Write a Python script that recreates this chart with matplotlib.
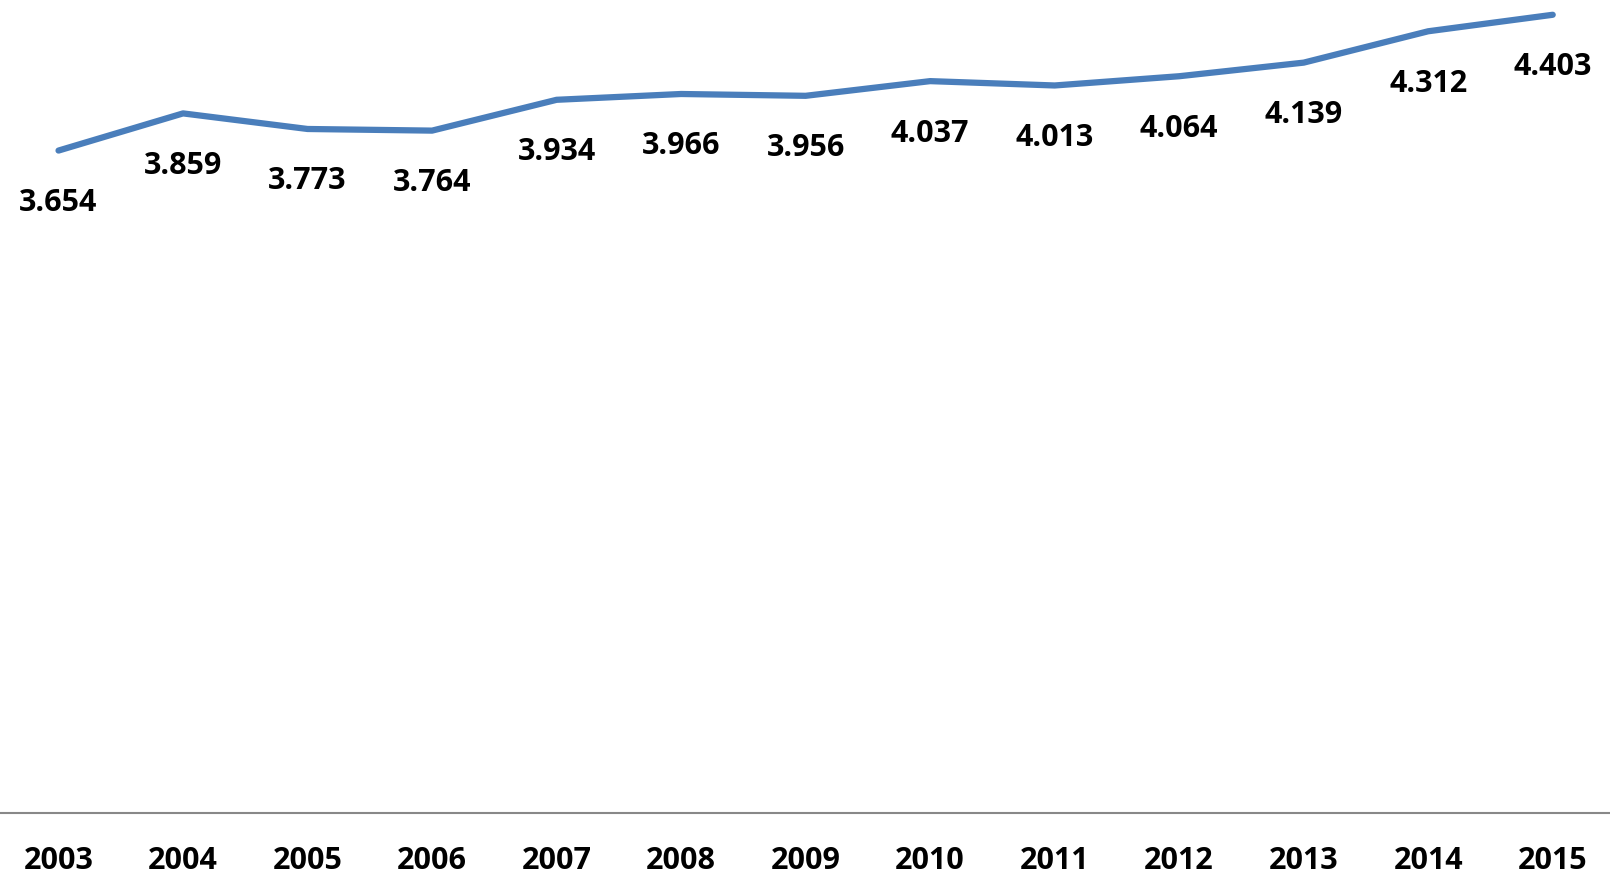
import matplotlib.pyplot as plt

years = ["2003", "2004", "2005", "2006", "2007", "2008", "2009",
         "2010", "2011", "2012", "2013", "2014", "2015"]
values = [3.654, 3.859, 3.773, 3.764, 3.934, 3.966, 3.956,
          4.037, 4.013, 4.064, 4.139, 4.312, 4.403]

plt.rcParams['font.family'] = ['Open Sans', 'DejaVu Sans']

fig = plt.figure(figsize=(16.1, 8.78), dpi=100)
ax = fig.add_axes([0, 1 - 814 / 878, 1, 814 / 878])

x = list(range(len(years)))
ax.plot(x, values, color="#4a7ebb", lw=4.5, solid_capstyle="round")
for xi, v in zip(x, values):
    ax.annotate(f"{v:.3f}", (xi, v), xytext=(0, -37), textcoords="offset points",
                ha="center", va="center", fontsize=22, fontweight="bold")

ax.set_xlim(-0.47, 12.46)
ax.set_ylim(0, 4.49)
ax.set_xticks(x)
ax.set_xticklabels(years, fontsize=22, fontweight="bold")
ax.tick_params(axis="x", length=0, pad=23)
ax.set_yticks([])
for s in ["top", "right", "left"]:
    ax.spines[s].set_visible(False)
ax.spines["bottom"].set_color("#888888")
ax.spines["bottom"].set_linewidth(1.5)

plt.savefig("out.png", dpi=100)
